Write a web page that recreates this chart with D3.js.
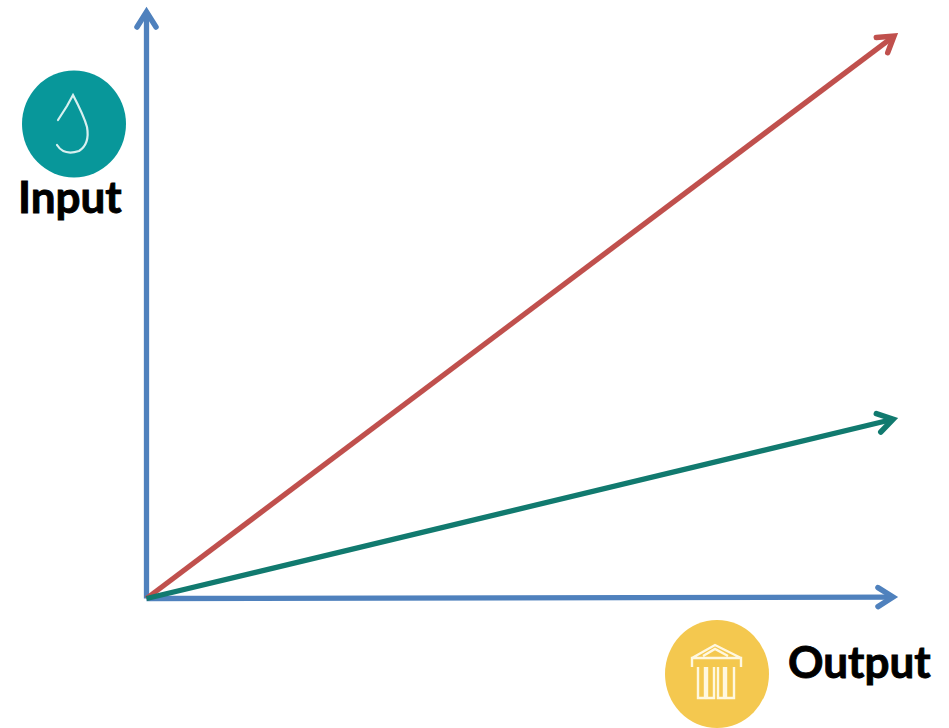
<!DOCTYPE html>
<html>
<head>
<meta charset="utf-8">
<script src="https://cdn.jsdelivr.net/npm/d3@7"></script>
<style>
html,body{margin:0;padding:0;background:#fff;}
svg{display:block;}
text{font-family:Lato,"Open Sans",sans-serif;font-weight:700;fill:#000;stroke:#000;stroke-width:0.9px;}
</style>
</head>
<body>
<svg id="c" width="949" height="728"></svg>
<script>
// Values in chart units, origin at (0,0)
const arrowNames = ["inputAxis", "redLine", "greenLine", "outputAxis"];
const arrowEndX = [0, 100, 100, 100];
const arrowEndY = [100, 95.6, 30.5, 0.25];
const arrowColors = ["#4f81bd", "#c0504d", "#117a6f", "#4f81bd"];
const axisLabels = ["Input", "Output"];

const svg = d3.select("#c");
const x = d3.scaleLinear().domain([0, 100]).range([146.5, 898]);
const y = d3.scaleLinear().domain([0, 100]).range([598.5, 7]);

const defs = svg.append("defs");
arrowColors.forEach((col, i) => {
  defs.append("marker")
    .attr("id", "head" + i)
    .attr("markerUnits", "userSpaceOnUse")
    .attr("viewBox", "-30 -20 40 40")
    .attr("markerWidth", 40).attr("markerHeight", 40)
    .attr("refX", 0).attr("refY", 0)
    .attr("orient", "auto")
    .append("path")
    .attr("d", "M-15,-9.5 L0,0 L-15,9.5")
    .attr("fill", "none")
    .attr("stroke", col)
    .attr("stroke-width", 5.5)
    .attr("stroke-linecap", "round")
    .attr("stroke-linejoin", "miter");
});
defs.append("clipPath").attr("id", "tealClip")
  .append("rect").attr("x", 0).attr("y", 60).attr("width", 140).attr("height", 118);

const back = 5; // the head's mitre tip sits this far past the shaft end
const angle = i => Math.atan2(y(0) - y(arrowEndY[i]), x(arrowEndX[i]) - x(0));

// Draw order: axes first, then data lines
const order = [0, 3, 1, 2];
svg.append("g").selectAll("line").data(order).join("line")
  .attr("x1", x(0)).attr("y1", y(0))
  .attr("x2", i => x(arrowEndX[i]) - back * Math.cos(angle(i)))
  .attr("y2", i => y(arrowEndY[i]) + back * Math.sin(angle(i)))
  .attr("stroke", i => arrowColors[i])
  .attr("stroke-width", 5.3)
  .attr("marker-end", i => `url(#head${i})`)
  .attr("data-name", i => arrowNames[i]);

// Input icon
const g1 = svg.append("g").attr("clip-path", "url(#tealClip)");
g1.append("ellipse").attr("cx", 74).attr("cy", 124).attr("rx", 52).attr("ry", 53.5).attr("fill", "#08979a");
svg.append("path")
  .attr("d", "M58,120 L67,106 L73,95 Q84,116 87,127 Q90,144 79,151 Q64,156 57,145")
  .attr("fill", "none").attr("stroke", "#d8f0f0").attr("stroke-width", 2.2).attr("stroke-linecap", "round");

// Output icon
const g2 = svg.append("g");
g2.append("ellipse").attr("cx", 717).attr("cy", 674).attr("rx", 52).attr("ry", 54).attr("fill", "#f4c84f");
g2.append("path")
  .attr("d", "M692,667 L692,658 L741,658 L741,667 M692,658 L715,645 L741,658 M703,656 L715,649 L728,656")
  .attr("fill", "none").attr("stroke", "#fff8e0").attr("stroke-width", 2.4);
[[698, 705], [707, 714], [718, 724], [726, 734]].forEach(([a, b]) => {
  g2.append("path")
    .attr("d", `M${a},667 L${a},698 L${b},698 L${b},667`)
    .attr("fill", "none").attr("stroke", "#fff8e0").attr("stroke-width", 2.4);
});

// Labels
svg.append("text").attr("x", 18).attr("y", 213).attr("font-size", 44).text(axisLabels[0]);
svg.append("text").attr("x", 788).attr("y", 678).attr("font-size", 44).text(axisLabels[1]);
</script>
</body>
</html>
